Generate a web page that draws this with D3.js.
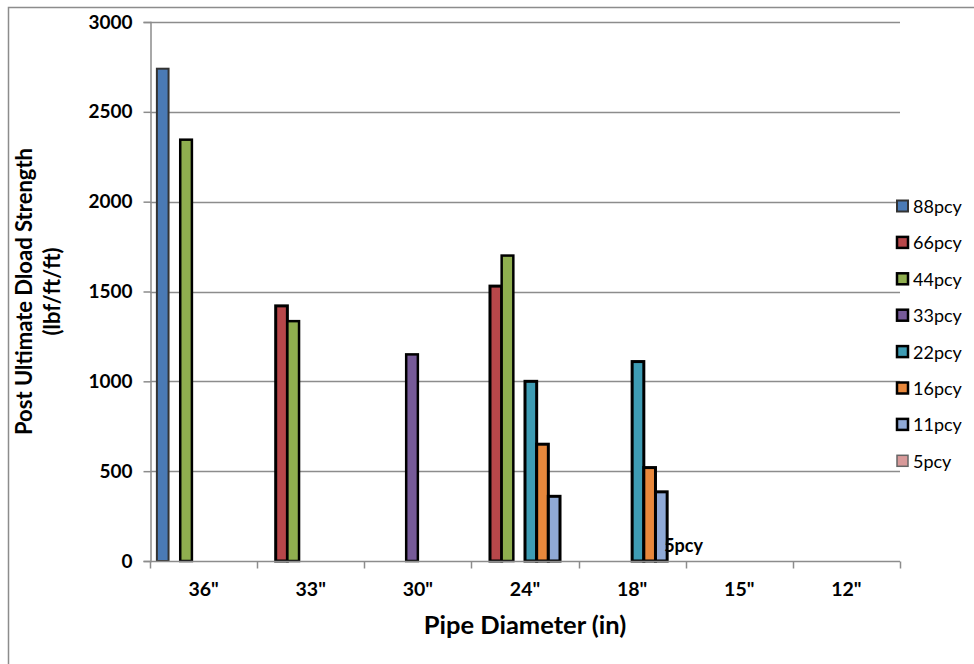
<!DOCTYPE html>
<html>
<head>
<meta charset="utf-8">
<script src="https://cdn.jsdelivr.net/npm/d3@7"></script>
<style>
  html, body { margin: 0; padding: 0; background: #ffffff; }
  svg { display: block; }
  text { font-family: Lato, "Open Sans", sans-serif; fill: #000; }
</style>
</head>
<body>
<svg id="chart" width="974" height="664"></svg>
<script>
// Pipe diameters along the category axis
const categories = ['36"', '33"', '30"', '24"', '18"', '15"', '12"'];

// Series names (soil density) in legend order
const seriesNames = ["88pcy", "66pcy", "44pcy", "33pcy", "22pcy", "16pcy", "11pcy", "5pcy"];

// Post ultimate D-load strength per series, one entry per diameter (null = no test)
const s88pcy = [2740, null, null, null, null, null, null];
const s66pcy = [null, 1420, null, 1530, null, null, null];
const s44pcy = [2345, 1335, null, 1700, null, null, null];
const s33pcy = [null, null, 1150, null, null, null, null];
const s22pcy = [null, null, null, 1000, 1110, null, null];
const s16pcy = [null, null, null, 650, 520, null, null];
const s11pcy = [null, null, null, 360, 385, null, null];
const s5pcy  = [null, null, null, null, 0, null, null];

// Value axis ticks
const yTicks = [0, 500, 1000, 1500, 2000, 2500, 3000];

const seriesValues = [s88pcy, s66pcy, s44pcy, s33pcy, s22pcy, s16pcy, s11pcy, s5pcy];

const fills   = ["#4A7AB5", "#B7474A", "#8FAE4F", "#765A98", "#3E9CB4", "#E8883C", "#8FA9D6", "#D89A9A"];
const strokes = ["#333333", "#000000", "#000000", "#000000", "#000000", "#000000", "#000000", "#666666"];
const strokeW = [2, 3, 2.5, 2.5, 3, 3, 3, 1.5];

const svg = d3.select("#chart");

// chart area frame
svg.append("rect")
  .attr("x", 8.5).attr("y", 7.5)
  .attr("width", 1200).attr("height", 1200)
  .attr("fill", "none").attr("stroke", "#8c8c8c").attr("stroke-width", 1.5);

const plot = { left: 150, right: 900, top: 22, bottom: 561 };

const x = d3.scaleBand()
  .domain(categories)
  .range([plot.left, plot.right])
  .paddingInner(0).paddingOuter(0);

const xs = d3.scaleBand()
  .domain(seriesNames)
  .range([0, x.bandwidth()])
  .paddingInner(0).paddingOuter(0.59);

const y = d3.scaleLinear()
  .domain([0, 3000])
  .range([plot.bottom, plot.top]);

const gridColor = "#8c8c8c";

// horizontal gridlines
svg.append("g")
  .selectAll("line")
  .data(yTicks.filter(d => d > 0))
  .join("line")
  .attr("x1", plot.left).attr("x2", plot.right)
  .attr("y1", d => Math.round(y(d)) + 0.5).attr("y2", d => Math.round(y(d)) + 0.5)
  .attr("stroke", gridColor).attr("stroke-width", 1.5);

// value axis
const yAxis = d3.axisLeft(y).tickValues(yTicks).tickFormat(d3.format("d")).tickSize(7).tickPadding(11);
const gy = svg.append("g")
  .attr("transform", `translate(${plot.left + 0.5},0)`)
  .call(yAxis);
gy.select(".domain").attr("stroke", gridColor).attr("stroke-width", 1.5);
gy.selectAll(".tick line").attr("stroke", gridColor).attr("stroke-width", 1.5);
gy.selectAll(".tick text")
  .attr("font-family", "Lato, sans-serif")
  .attr("font-weight", "bold")
  .attr("font-size", 19)
  .attr("fill", "#000");

// bars
const barData = [];
seriesValues.forEach((vals, si) => {
  vals.forEach((v, ci) => {
    if (v !== null) barData.push({ series: seriesNames[si], si, cat: categories[ci], value: v });
  });
});

svg.append("g")
  .selectAll("rect")
  .data(barData)
  .join("rect")
  .attr("x", d => x(d.cat) + xs(d.series))
  .attr("width", xs.bandwidth())
  .attr("y", d => y(d.value))
  .attr("height", d => y(0) - y(d.value))
  .attr("fill", d => fills[d.si])
  .attr("stroke", d => strokes[d.si])
  .attr("stroke-width", d => strokeW[d.si]);

// series name label on the 5pcy bar
svg.append("g")
  .selectAll("text")
  .data(barData.filter(d => d.series === "5pcy"))
  .join("text")
  .attr("x", d => x(d.cat) + xs(d.series) - 3)
  .attr("y", d => y(d.value) - 9)
  .attr("font-weight", "bold")
  .attr("font-size", 18)
  .text(d => d.series);

// category axis
const xAxis = d3.axisBottom(x).tickSize(0).tickPadding(0);
const gx = svg.append("g")
  .attr("transform", `translate(0,${plot.bottom + 0.5})`);
gx.append("line")
  .attr("x1", plot.left).attr("x2", plot.right)
  .attr("stroke", gridColor).attr("stroke-width", 1.5);
// tick marks at category boundaries
const bounds = categories.map(c => x(c)).concat([plot.right]);
gx.selectAll("line.tk")
  .data(bounds)
  .join("line")
  .attr("class", "tk")
  .attr("x1", d => Math.round(d) + 0.5).attr("x2", d => Math.round(d) + 0.5)
  .attr("y1", 0).attr("y2", 7)
  .attr("stroke", gridColor).attr("stroke-width", 1.5);
gx.selectAll("text.lbl")
  .data(categories)
  .join("text")
  .attr("class", "lbl")
  .attr("x", d => x(d) + x.bandwidth() / 2)
  .attr("y", 34)
  .attr("text-anchor", "middle")
  .attr("font-weight", "bold")
  .attr("font-size", 19.5)
  .text(d => d);

// axis titles
svg.append("text")
  .attr("x", (plot.left + plot.right) / 2)
  .attr("y", 634)
  .attr("text-anchor", "middle")
  .attr("font-weight", "bold")
  .attr("font-size", 25.5)
  .text("Pipe Diameter (in)");

const yTitle = svg.append("g")
  .attr("transform", `translate(0,${(plot.top + plot.bottom) / 2}) rotate(-90)`);
yTitle.append("text")
  .attr("x", 0).attr("y", 32)
  .attr("text-anchor", "middle")
  .attr("font-weight", "bold")
  .attr("font-size", 22)
  .text("Post Ultimate Dload Strength");
yTitle.append("text")
  .attr("x", 0).attr("y", 60)
  .attr("text-anchor", "middle")
  .attr("font-weight", "bold")
  .attr("font-size", 22)
  .text("(lbf/ft/ft)");

// legend
const legend = svg.append("g")
  .selectAll("g")
  .data(seriesNames)
  .join("g")
  .attr("transform", (d, i) => `translate(897,${206.5 + i * 36.4})`);
legend.append("rect")
  .attr("x", 0).attr("y", -6)
  .attr("width", 11).attr("height", 11)
  .attr("fill", (d, i) => fills[i])
  .attr("stroke", (d, i) => strokes[i])
  .attr("stroke-width", (d, i) => Math.min(strokeW[i], 2.5));
legend.append("text")
  .attr("x", 16).attr("y", 6.5)
  .attr("font-size", 18)
  .text(d => d);
</script>
</body>
</html>
